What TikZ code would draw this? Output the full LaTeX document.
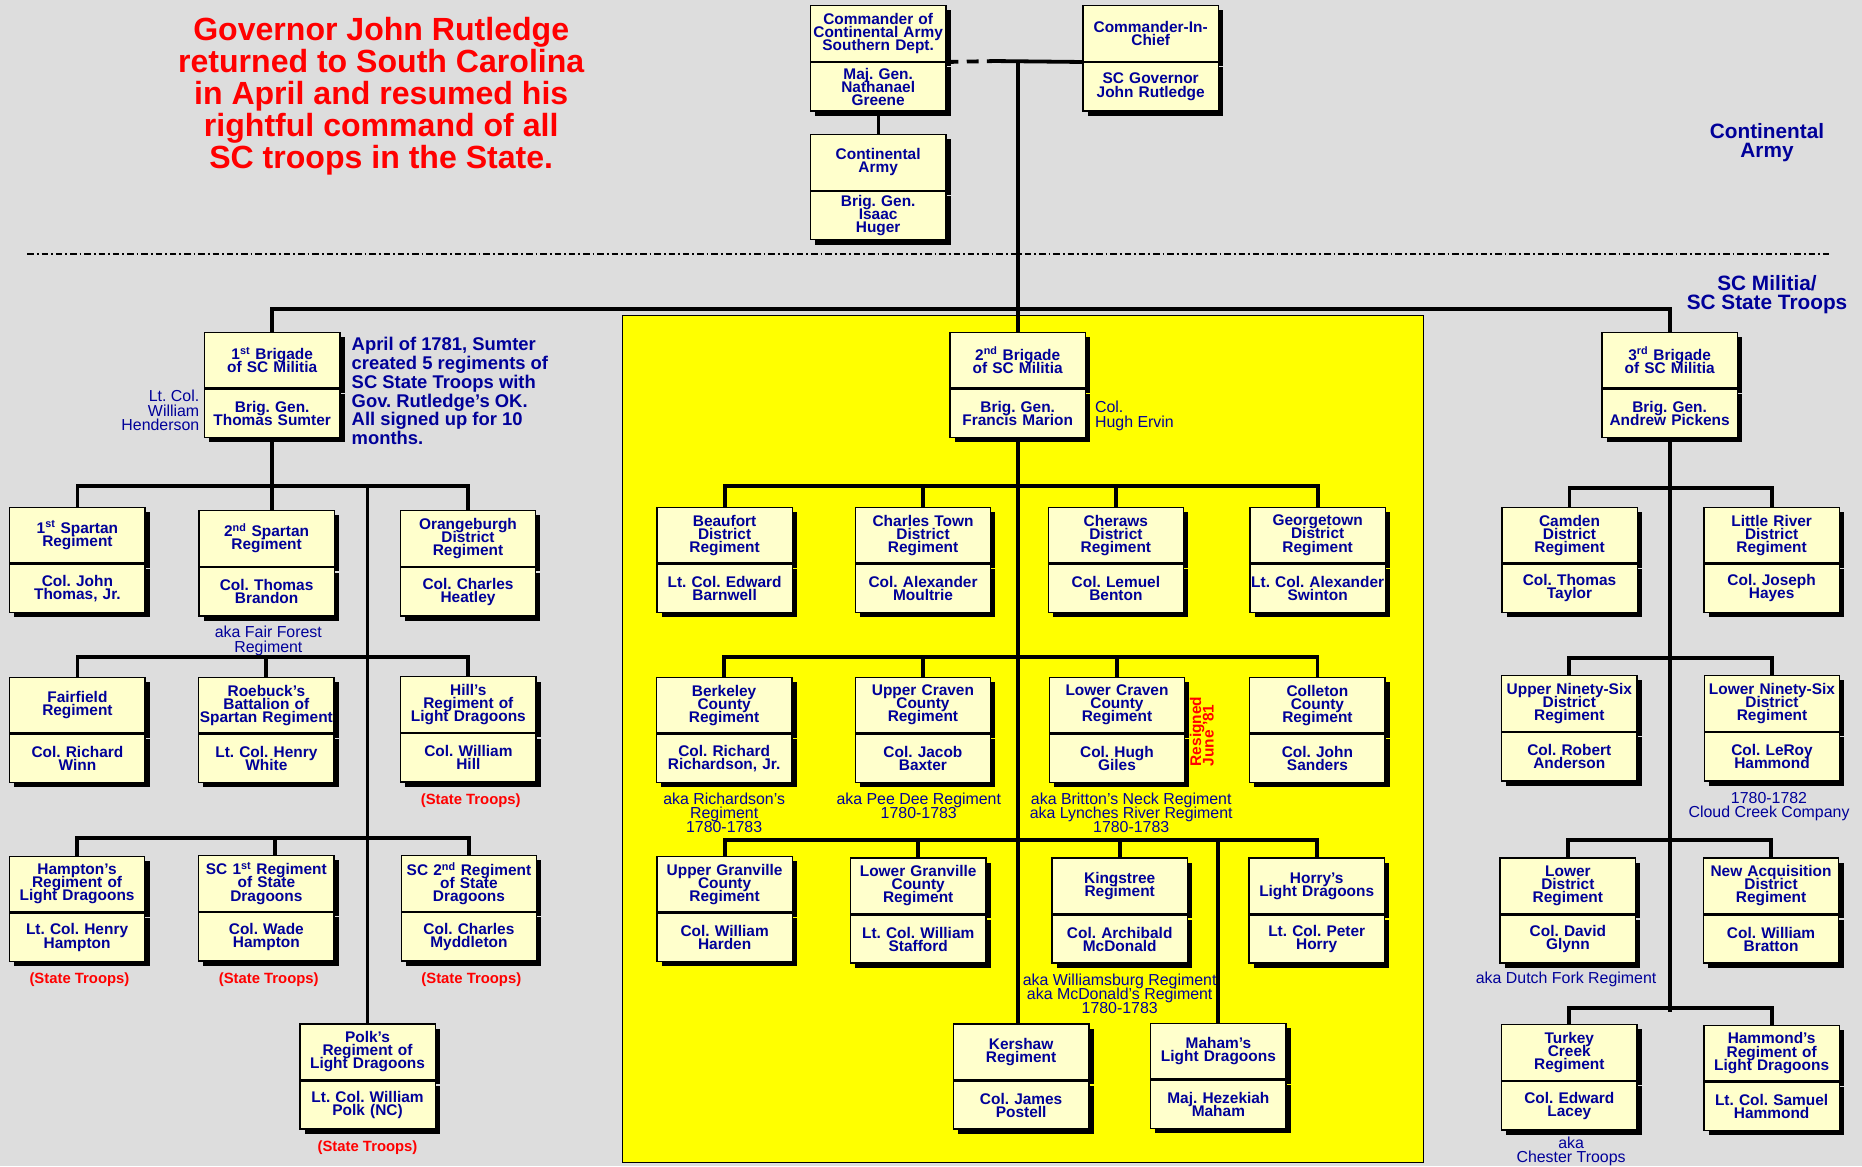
\documentclass[tikz,border=0pt]{standalone}
\usepackage{fontspec}
\setmainfont{Liberation Sans}
\usetikzlibrary{positioning, shadows}

\definecolor{bggray}{RGB}{221,221,221}
\definecolor{boxfill}{RGB}{255,255,204}
\definecolor{navy}{RGB}{0,0,153}
\definecolor{hilite}{RGB}{255,255,0}

\newcommand{\boxfont}{\fontsize{13}{11}\selectfont\bfseries\frenchspacing\lineskiplimit=-20pt\relax}
\newcommand{\notefont}{\fontsize{13.4}{12}\selectfont\frenchspacing\lineskiplimit=-20pt\relax}
\newcommand{\bannerfont}{\fontsize{17.5}{16}\selectfont\bfseries\lineskiplimit=-20pt\relax}
\newcommand{\headfont}{\fontsize{27}{27}\selectfont\bfseries\lineskiplimit=-20pt\relax}
\newcommand{\aprilfont}{\fontsize{15.5}{15.8}\selectfont\bfseries\frenchspacing\lineskiplimit=-20pt\relax}
\newcommand{\stfont}{\fontsize{12.5}{12}\selectfont\bfseries}
\newcommand{\resgfont}{\fontsize{13}{10.5}\selectfont\bfseries\lineskiplimit=-20pt\relax}

\begin{document}
\frenchspacing
\begin{tikzpicture}[x=1pt, y=-1pt,
  ttl/.style={draw, line width=1.2pt, fill=boxfill, text=navy, text width=118pt,
              minimum height=46.8pt, inner xsep=-2pt, inner ysep=0pt, align=center,
              font=\boxfont, anchor=north,
              drop shadow={shadow xshift=4pt, shadow yshift=-4pt, fill=black, opacity=1}},
  cmd/.style={ttl, minimum height=40.5pt},
  link/.style={line width=3.2pt},
  note/.style={text=navy, font=\notefont, align=center, inner sep=0pt},
  sttroops/.style={text=red, font=\stfont, inner sep=0pt},
  banner/.style={text=navy, font=\bannerfont, align=center, inner sep=0pt, anchor=north}
]
  \useasboundingbox (0,0) rectangle (1568,982);
  \fill[bggray] (0,0) rectangle (1568,982);
  \filldraw[fill=hilite, draw=black, line width=0.8pt] (524,266) rectangle (1199,979);
  \draw[line width=1.2pt, dash pattern=on 5.5pt off 2.5pt on 1.5pt off 2.5pt] (23,213.9) -- (1540,213.9);

  % headings
  \node[text=red, font=\headfont, align=center, inner sep=0pt, anchor=north] (head) at (321,14)
    {Governor John Rutledge\\returned to South Carolina\\in April and resumed his\\rightful command of all\\SC troops in the State.};
  \node[banner] (contlbl) at (1488,103.7) {Continental\\Army};
  \node[banner] (mililbl) at (1488,231.7) {SC Militia/\\SC State Troops};

  % continental army
  \node[ttl] (greene) at (739.5,4.2) {Commander of\\Continental Army\\Southern Dept.};
  \node[cmd, below=0pt of greene] (greene-c) {Maj. Gen.\\Nathanael\\Greene};
  \node[ttl] (huger) at (739.5,112.8) {Continental\\Army};
  \node[cmd, below=0pt of huger] (huger-c) {Brig. Gen.\\Isaac\\Huger};
  \node[ttl] (cinc) at (969,4.2) {Commander-In-\\Chief};
  \node[cmd, below=0pt of cinc] (cinc-c) {SC Governor\\John Rutledge};
  \coordinate (dashend) at (838,51.4);
  \coordinate (hub) at (857,51.4);

  % 1st brigade
  \node[ttl] (brig1) at (229.2,279.3) {1\textsuperscript{st} Brigade\\of SC Militia};
  \node[cmd, below=0pt of brig1] (brig1-c) {Brig. Gen.\\Thomas Sumter};
  \node[note, align=right, anchor=north east] (hend) at (168,328.5) {Lt. Col.\\William\\Henderson};
  \node[text=navy, font=\aprilfont, align=left, inner sep=0pt, anchor=north west] (april) at (296,284)
    {April of 1781, Sumter\\created 5 regiments of\\SC State Troops with\\Gov. Rutledge's OK.\\All signed up for 10\\months.};

  \node[ttl] (sp1) at (65.2,426.7) {1\textsuperscript{st} Spartan\\Regiment};
  \node[cmd, below=0pt of sp1] (sp1-c) {Col. John\\Thomas, Jr.};
  \node[ttl] (sp2) at (224.5,429.5) {2\textsuperscript{nd} Spartan\\Regiment};
  \node[cmd, below=0pt of sp2] (sp2-c) {Col. Thomas\\Brandon};
  \node[note, below=8pt of sp2-c, xshift=1.5pt] (sp2-n) {aka Fair Forest\\Regiment};
  \node[ttl] (orb) at (394.1,429.5) {Orangeburgh\\District\\Regiment};
  \node[cmd, below=0pt of orb] (orb-c) {Col. Charles\\Heatley};

  \node[ttl] (fair) at (65.2,569.8) {Fairfield\\Regiment};
  \node[cmd, below=0pt of fair] (fair-c) {Col. Richard\\Winn};
  \node[ttl] (roeb) at (224.3,569.8) {Roebuck's\\Battalion of\\Spartan Regiment};
  \node[cmd, below=0pt of roeb] (roeb-c) {Lt. Col. Henry\\White};
  \node[ttl] (hill) at (394.4,569.3) {Hill's\\Regiment of\\Light Dragoons};
  \node[cmd, below=0pt of hill] (hill-c) {Col. William\\Hill};
  \node[sttroops, below=9pt of hill-c, xshift=2pt] (hill-n) {(State Troops)};

  \node[ttl] (hamp) at (64.9,720.6) {Hampton's\\Regiment of\\Light Dragoons};
  \node[cmd, below=0pt of hamp] (hamp-c) {Lt. Col. Henry\\Hampton};
  \node[sttroops, below=9pt of hamp-c, xshift=2pt] (hamp-n) {(State Troops)};
  \node[ttl] (sc1) at (224.3,720) {SC 1\textsuperscript{st} Regiment\\of State\\Dragoons};
  \node[cmd, below=0pt of sc1] (sc1-c) {Col. Wade\\Hampton};
  \node[sttroops, below=9pt of sc1-c, xshift=2pt] (sc1-n) {(State Troops)};
  \node[ttl] (sc2) at (394.9,720) {SC 2\textsuperscript{nd} Regiment\\of State\\Dragoons};
  \node[cmd, below=0pt of sc2] (sc2-c) {Col. Charles\\Myddleton};
  \node[sttroops, below=9pt of sc2-c, xshift=2pt] (sc2-n) {(State Troops)};

  \node[ttl] (polk) at (309.5,861.8) {Polk's\\Regiment of\\Light Dragoons};
  \node[cmd, below=0pt of polk] (polk-c) {Lt. Col. William\\Polk (NC)};
  \node[sttroops, below=9pt of polk-c] (polk-n) {(State Troops)};

  % 2nd brigade
  \node[ttl] (brig2) at (857,279.3) {2\textsuperscript{nd} Brigade\\of SC Militia};
  \node[cmd, below=0pt of brig2] (brig2-c) {Brig. Gen.\\Francis Marion};
  \node[note, align=left, anchor=north west] (ervin) at (922,337.7) {Col.\\Hugh Ervin};

  \node[ttl] (beau) at (610.2,426.7) {Beaufort\\District\\Regiment};
  \node[cmd, below=0pt of beau] (beau-c) {Lt. Col. Edward\\Barnwell};
  \node[ttl] (chas) at (777.3,426.7) {Charles Town\\District\\Regiment};
  \node[cmd, below=0pt of chas] (chas-c) {Col. Alexander\\Moultrie};
  \node[ttl] (cher) at (939.7,426.7) {Cheraws\\District\\Regiment};
  \node[cmd, below=0pt of cher] (cher-c) {Col. Lemuel\\Benton};
  \node[ttl] (geo) at (1109.6,426.7) {Georgetown\\District\\Regiment};
  \node[cmd, below=0pt of geo] (geo-c) {Lt. Col. Alexander\\Swinton};

  \node[ttl] (berk) at (609.8,569.8) {Berkeley\\County\\Regiment};
  \node[cmd, below=0pt of berk] (berk-c) {Col. Richard\\Richardson, Jr.};
  \node[note, below=8pt of berk-c] (berk-n) {aka Richardson's\\Regiment\\1780-1783};
  \node[ttl] (upcr) at (777.2,569.8) {Upper Craven\\County\\Regiment};
  \node[cmd, below=0pt of upcr] (upcr-c) {Col. Jacob\\Baxter};
  \node[note, below=8pt of upcr-c, xshift=-3.5pt] (upcr-n) {aka Pee Dee Regiment\\1780-1783};
  \node[ttl] (locr) at (940.6,569.8) {Lower Craven\\County\\Regiment};
  \node[cmd, below=0pt of locr] (locr-c) {Col. Hugh\\Giles};
  \node[note, below=8pt of locr-c, xshift=12pt] (locr-n) {aka Britton's Neck Regiment\\aka Lynches River Regiment\\1780-1783};
  \node[text=red, font=\resgfont, align=left, inner sep=0pt, rotate=90] (resg) at (1012,616) {Resigned\\June '81};
  \node[ttl] (coll) at (1109.4,569.8) {Colleton\\County\\Regiment};
  \node[cmd, below=0pt of coll] (coll-c) {Col. John\\Sanders};

  \node[ttl] (ugran) at (610.2,720.6) {Upper Granville\\County\\Regiment};
  \node[cmd, below=0pt of ugran] (ugran-c) {Col. William\\Harden};
  \node[ttl] (lgran) at (773.2,722) {Lower Granville\\County\\Regiment};
  \node[cmd, below=0pt of lgran] (lgran-c) {Lt. Col. William\\Stafford};
  \node[ttl] (king) at (942.9,722) {Kingstree\\Regiment};
  \node[cmd, below=0pt of king] (king-c) {Col. Archibald\\McDonald};
  \node[note, below=8pt of king-c] (king-n) {aka Williamsburg Regiment\\aka McDonald's Regiment\\1780-1783};
  \node[ttl] (horry) at (1108.8,722) {Horry's\\Light Dragoons};
  \node[cmd, below=0pt of horry] (horry-c) {Lt. Col. Peter\\Horry};

  \node[ttl] (kersh) at (859.9,861.8) {Kershaw\\Regiment};
  \node[cmd, below=0pt of kersh] (kersh-c) {Col. James\\Postell};
  \node[ttl] (maham) at (1026,861.2) {Maham's\\Light Dragoons};
  \node[cmd, below=0pt of maham] (maham-c) {Maj. Hezekiah\\Maham};

  % 3rd brigade
  \node[ttl] (brig3) at (1406,279.3) {3\textsuperscript{rd} Brigade\\of SC Militia};
  \node[cmd, below=0pt of brig3] (brig3-c) {Brig. Gen.\\Andrew Pickens};

  \node[ttl] (camd) at (1321.7,426.7) {Camden\\District\\Regiment};
  \node[cmd, below=0pt of camd] (camd-c) {Col. Thomas\\Taylor};
  \node[ttl] (lriv) at (1491.9,426.7) {Little River\\District\\Regiment};
  \node[cmd, below=0pt of lriv] (lriv-c) {Col. Joseph\\Hayes};

  \node[ttl] (up96) at (1321.5,568.4) {Upper Ninety-Six\\District\\Regiment};
  \node[cmd, below=0pt of up96] (up96-c) {Col. Robert\\Anderson};
  \node[ttl] (lo96) at (1492.2,568.4) {Lower Ninety-Six\\District\\Regiment};
  \node[cmd, below=0pt of lo96] (lo96-c) {Col. LeRoy\\Hammond};
  \node[note, below=9pt of lo96-c, xshift=-2.5pt] (lo96-n) {1780-1782\\Cloud Creek Company};

  \node[ttl] (lowd) at (1320.3,722) {Lower\\District\\Regiment};
  \node[cmd, below=0pt of lowd] (lowd-c) {Col. David\\Glynn};
  \node[note, below=7pt of lowd-c, xshift=-1.5pt] (lowd-n) {aka Dutch Fork Regiment};
  \node[ttl] (newa) at (1491.4,722) {New Acquisition\\District\\Regiment};
  \node[cmd, below=0pt of newa] (newa-c) {Col. William\\Bratton};

  \node[ttl] (turk) at (1321.5,862.3) {Turkey\\Creek\\Regiment};
  \node[cmd, below=0pt of turk] (turk-c) {Col. Edward\\Lacey};
  \node[note, below=5pt of turk-c, xshift=1.5pt] (turk-n) {aka\\Chester Troops};
  \node[ttl] (hamm) at (1491.9,862.8) {Hammond's\\Regiment of\\Light Dragoons};
  \node[cmd, below=0pt of hamm] (hamm-c) {Lt. Col. Samuel\\Hammond};

  % connectors
  \draw[link, dash pattern=on 10pt off 7pt] (greene.south east) -- (dashend);
  \draw[link] (dashend) -- (cinc.south west);
  \draw[link] (hub) -- (brig2.north);
  \draw[link, line width=2.5pt] (greene-c.south) -- (huger.north);
  \draw[link] (brig1.north) -- ++(0,-19.3) -| (brig3.north);

  \draw[link] (brig1-c.south) -- (brig1-c.south |- sp2.north);
  \draw[link] (sp1.north) -- ++(0,-17.7) -| (orb.north);
  \draw[link] (polk.north) -- ++(0,-452.8);
  \draw[link] (fair.north) -- ++(0,-16.8) -| (hill.north);
  \draw[link] (roeb.north) -- ++(0,-16.8);
  \draw[link] (hamp.north) -- ++(0,-15.2) -| (sc2.north);
  \draw[link] (sc1.north) ++(7,0) -- ++(0,-14.6);

  \draw[link] (brig2-c.south) -- (brig2-c.south |- kersh.north);
  \draw[link] (beau.north) -- ++(0,-17.7) -| (geo.north);
  \draw[link] (chas.north) -- ++(0,-17.7);
  \draw[link] (cher.north) -- ++(0,-17.7);
  \draw[link] (berk.north) -- ++(0,-16.8) -| (coll.north);
  \draw[link] (upcr.north) -- ++(0,-16.8);
  \draw[link] (locr.north) -- ++(0,-16.8);
  \draw[link] (ugran.north) -- ++(0,-13.2) -| (horry.north);
  \draw[link] (lgran.north) -- ++(0,-14.6);
  \draw[link] (king.north) -- ++(0,-14.6);
  \draw[link] (maham.north) -- ++(0,-153.8);

  \draw[link] (brig3-c.south) -- ++(0,482.8);
  \draw[link] (camd.north) -- ++(0,-15.7) -| (lriv.north);
  \draw[link] (up96.north) -- ++(0,-14.6) -| (lo96.north);
  \draw[link] (lowd.north) -- ++(0,-14.6) -| (newa.north);
  \draw[link] (turk.north) -- ++(0,-13.2) -| (hamm.north);
\end{tikzpicture}
\end{document}
